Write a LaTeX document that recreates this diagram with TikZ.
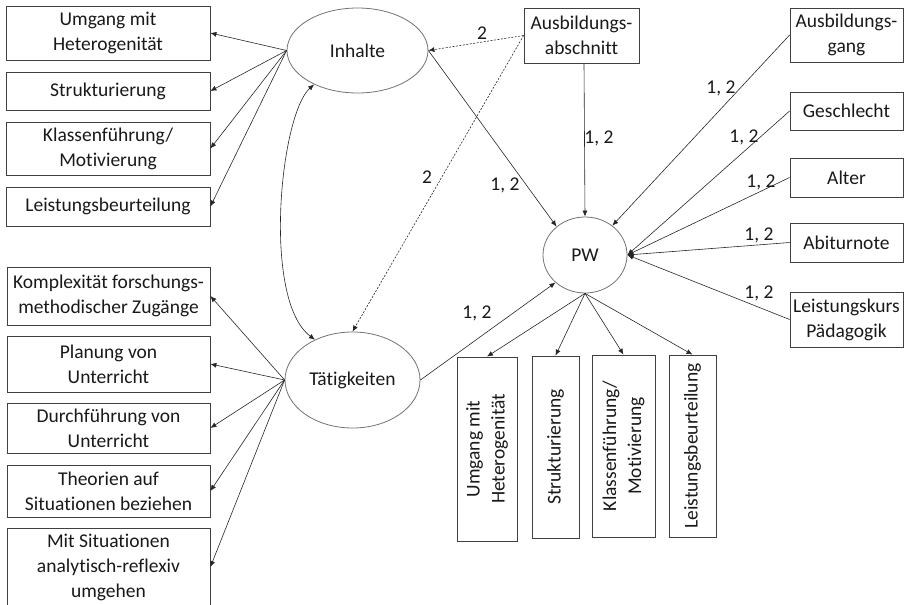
\documentclass[tikz,border=0pt]{standalone}
\usepackage{fontspec}
\setmainfont{Carlito}[Ligatures=NoCommon]
\usetikzlibrary{shapes.geometric,arrows.meta}
\begin{document}
\begin{tikzpicture}[x=1pt,y=-1pt,
  every node/.style={font=\fontsize{19.5}{25}\selectfont, text=black!90},
  box/.style={draw=black!75, line width=0.8pt, align=center, inner sep=0pt, rectangle},
  latent/.style={ellipse, draw=black!55, line width=0.8pt, inner sep=0pt},
  con/.style={draw=black!85, line width=0.6pt, -{Latex[length=6pt,width=5pt]}},
  dcon/.style={con, dash pattern=on 2pt off 1.5pt},
  lab/.style={inner sep=0pt}
]
\useasboundingbox (0,0) rectangle (905,605);
\clip (0,0) rectangle (905,605);

% latent variables
\node[latent, minimum width=141pt, minimum height=85pt] (inh) at (357.5,50.5) {Inhalte};
\node[latent, minimum width=135pt, minimum height=96pt] (tat) at (352.5,380) {Tätigkeiten};
\node[latent, minimum width=84pt, minimum height=76pt] (pw) at (585,255) {PW};

% left top indicators
\node[box, minimum width=204pt, minimum height=54pt] (a1) at (108,33) {Umgang mit\\Heterogenität};
\node[box, minimum width=204pt, minimum height=38pt] (a2) at (108,91) {Strukturierung};
\node[box, minimum width=204pt, minimum height=53pt] (a3) at (108,148.5) {Klassenführung/\\Motivierung};
\node[box, minimum width=204pt, minimum height=39pt] (a4) at (108,206.5) {Leistungsbeurteilung};

% left bottom indicators
\node[box, minimum width=203pt, minimum height=58pt] (b1) at (108.5,296) {Komplexität forschungs-\\methodischer Zugänge};
\node[box, minimum width=203pt, minimum height=56pt] (b2) at (108.5,364) {Planung von\\Unterricht};
\node[box, minimum width=203pt, minimum height=50pt] (b3) at (108.5,428) {Durchführung von\\Unterricht};
\node[box, minimum width=203pt, minimum height=52pt] (b4) at (108.5,491) {Theorien auf\\Situationen beziehen};
\node[box, minimum width=203pt, minimum height=78pt] (b5) at (108.5,567) {Mit Situationen\\analytisch-reflexiv\\umgehen};

% covariates
\node[box, minimum width=115pt, minimum height=55pt] (abs) at (581.5,35.5) {Ausbildungs-\\abschnitt};
\node[box, minimum width=113pt, minimum height=54pt] (c1) at (846.5,35) {Ausbildungs-\\gang};
\node[box, minimum width=113pt, minimum height=38pt] (c2) at (846.5,111) {Geschlecht};
\node[box, minimum width=113pt, minimum height=39pt] (c3) at (846.5,177.5) {Alter};
\node[box, minimum width=113pt, minimum height=39pt] (c4) at (846.5,242.5) {Abiturnote};
\node[box, minimum width=113pt, minimum height=55pt] (c5) at (846.5,319.5) {Leistungskurs\\Pädagogik};

% PW indicators (rotated)
\node[box, rotate=90, minimum width=184pt, minimum height=60pt] (p1) at (487,449) {Umgang mit\\Heterogenität};
\node[box, rotate=90, minimum width=182pt, minimum height=47pt] (p2) at (555.5,447) {Strukturierung};
\node[box, rotate=90, minimum width=182pt, minimum height=63pt] (p3) at (623.5,446) {Klassenführung/\\Motivierung};
\node[box, rotate=90, minimum width=182pt, minimum height=47pt] (p4) at (692.5,446) {Leistungsbeurteilung};

% loadings
\foreach \t in {a1,a2,a3,a4} \draw[con] (inh.west) -- (\t.east);
\foreach \t in {b1,b2,b3,b4,b5} \draw[con] (tat.west) -- (\t.east);
\foreach \t in {p1,p2,p3,p4} \draw[con] (pw.south) -- (\t.east);

% covariance
\draw[draw=black!85, line width=0.6pt, {Latex[length=6pt,width=5pt]}-{Latex[length=6pt,width=5pt]}]
  (inh.218) .. controls (280,115) and (262,300) .. (tat.133);

% structural paths
\draw[con] (inh.east) -- (pw.135);
\draw[con] (tat.east) -- (pw.223);
\draw[dcon] (abs.west) -- (inh.east);
\draw[dcon] (abs.west) -- (tat.north);
\draw[con] ([xshift=2.5pt]abs.south) -- (pw.north);
\draw[con] (c1.west) -- (pw);
\foreach \c in {c2,c3,c4,c5} \draw[con] (\c.west) -- (pw.east);

% labels
\node[lab] (l1) at (482,33) {2};
\node[lab] (l2) at (427,177) {2};
\node[lab] (l3) at (505,185) {1, 2};
\node[lab] (l4) at (599,138) {1, 2};
\node[lab] (l5) at (721,88) {1, 2};
\node[lab] (l6) at (744,137) {1, 2};
\node[lab] (l7) at (761,182) {1, 2};
\node[lab] (l8) at (759,235) {1, 2};
\node[lab] (l9) at (759,293) {1, 2};
\node[lab] (l10) at (477,313) {1, 2};
\end{tikzpicture}
\end{document}
